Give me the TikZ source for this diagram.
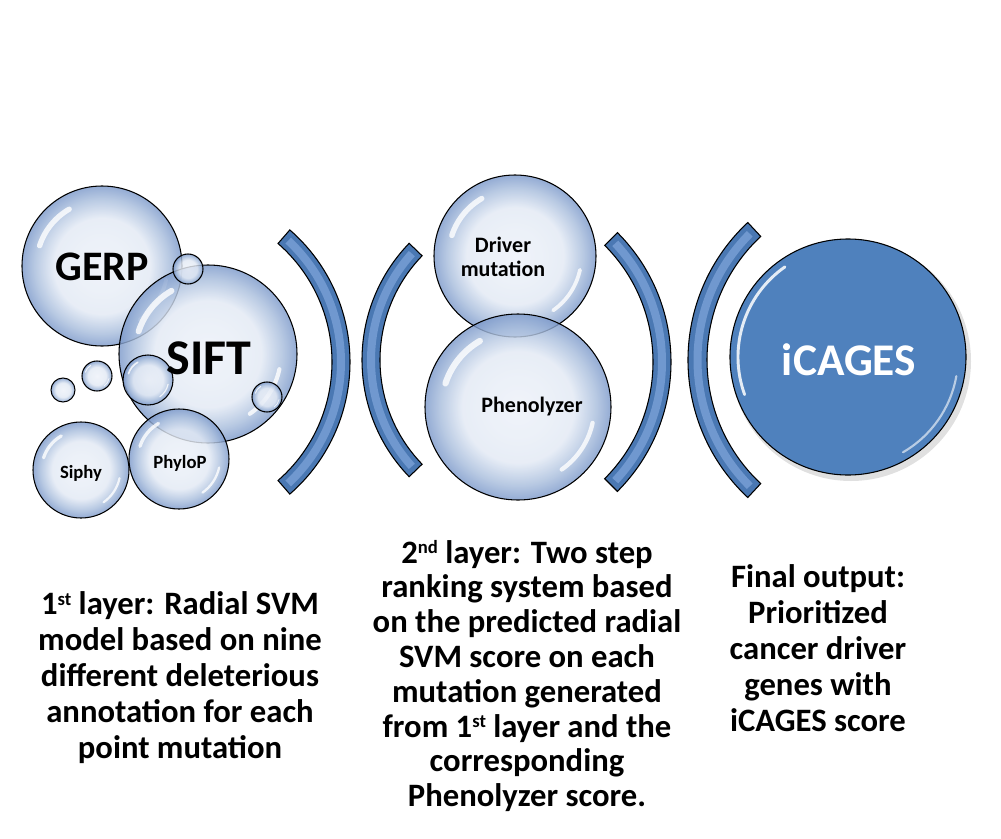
\documentclass[tikz,border=0pt]{standalone}
\usepackage{fontspec}
\setmainfont{Carlito}
\usetikzlibrary{calc}
\definecolor{bubin}{HTML}{EEF2F9}
\definecolor{bubmid}{HTML}{E3EAF5}
\definecolor{bubrim}{HTML}{A9BEDD}
\definecolor{bubedge}{HTML}{7D9ACB}
\definecolor{accent}{HTML}{4F81BD}
\definecolor{banddark}{HTML}{4A78B3}
\definecolor{bandlight}{HTML}{7098CF}
\pgfdeclareradialshading{bubshade}{\pgfpoint{0bp}{0bp}}{color(0bp)=(bubin); color(15bp)=(bubmid); color(21bp)=(bubrim); color(25bp)=(bubedge); color(50bp)=(bubedge)}
\newcommand\supr[1]{\raisebox{7pt}{\fontsize{14}{14}\selectfont #1}}
\tikzset{
  bub/.style={circle, draw=black, line width=0.8pt, inner sep=0pt,
    minimum size={#1*1.5pt}, shade, shading=bubshade, fill opacity=0.82},
  hl/.style={white, line cap=round, opacity=0.8},
  lbl/.style={inner sep=0pt, font=\bfseries},
  band/.style={fill=banddark, draw=black, line width=0.8pt},
  bandhl/.style={bandlight, line width=6pt, line cap=butt},
  caption/.style={align=center, inner sep=0pt}
}
\newcommand\hlbub[2]{%
  \draw[hl, line width={#2*0.05pt}] ($(#1.center)+(198:{#2*0.82})$) arc[start angle=198, end angle=240, radius={#2*0.82}];
  \draw[hl, line width={#2*0.035pt}] ($(#1.center)+(12:{#2*0.82})$) arc[start angle=12, end angle=55, radius={#2*0.82}];
}
\newcommand\bandarc[5]{%
  \draw[band] ($(#1)+(#4:#3)$) arc[start angle=#4, end angle=#5, radius=#3]
     -- ($(#1)+(#5:#2)$) arc[start angle=#5, end angle=#4, radius=#2] -- cycle;
  \draw[bandhl] ($(#1)+({#4+2}:{(#2+#3)/2})$) arc[start angle={#4+2}, end angle={#5-2}, radius={(#2+#3)/2}];
}
\begin{document}
\begin{tikzpicture}[x=0.75pt, y=-0.75pt]
\useasboundingbox (0,0) rectangle (1001,839);
\fill[white] (0,0) rectangle (1001,839);

% bracket centres
\coordinate (c1) at (175,362);
\coordinate (c2) at (530,360);
\coordinate (c3) at (488,362);
\coordinate (c4) at (876,360);
\bandarc{c1}{157}{175}{-49}{49}
\bandarc{c2}{150}{168}{136}{224}
\bandarc{c3}{165}{183}{-45}{45}
\bandarc{c4}{169}{188}{133}{227}

% first layer bubbles
\node[bub=80] (gerp) at (102,266) {};
\hlbub{gerp}{80}
\node[bub=89] (sift) at (208,354) {};
\hlbub{sift}{89}
\node[bub=15] (b1) at (188,269) {};
\node[bub=25] (b2) at (148,380) {};
\hlbub{b2}{25}
\node[bub=15] (b3) at (267,397) {};
\hlbub{b3}{15}
\node[bub=15] (b4) at (97,376) {};
\hlbub{b4}{15}
\node[bub=12] (b5) at (63,390) {};
\node[bub=48] (siphy) at (81,470) {};
\hlbub{siphy}{48}
\node[bub=50] (phylop) at (179,459) {};
\hlbub{phylop}{50}

\node[lbl, font=\fontsize{31.5}{34}\selectfont\bfseries] (gerpT) at (102,267) {GERP};
\node[lbl, font=\fontsize{37.5}{40}\selectfont\bfseries] (siftT) at (209,358) {SIFT};
\node[lbl, font=\fontsize{14}{16}\selectfont\bfseries] (siphyT) at (81,473) {Siphy};
\node[lbl, font=\fontsize{14}{16}\selectfont\bfseries] (phylopT) at (180,463) {PhyloP};

% second layer bubbles
\node[bub=81] (driver) at (515,256) {};
\hlbub{driver}{81}
\node[bub=93] (pheno) at (518,407) {};
\hlbub{pheno}{93}
\node[lbl, align=center, font=\fontsize{16.5}{18}\selectfont\bfseries] (driverT) at (503,257) {Driver\\mutation};
\node[lbl, font=\fontsize{16.5}{18}\selectfont\bfseries] (phenoT) at (532,407) {Phenolyzer};

% final output
\fill[black, opacity=0.12] (851,361) circle[radius=120];
\node[circle, fill=accent, draw=black, line width=0.8pt, minimum size={118*1.5pt}, inner sep=0pt] (icages) at (848,357) {};
\draw[hl, line width=2.2pt, opacity=0.85] ($(icages.center)+(160:110)$) arc[start angle=160, end angle=235, radius=110];
\draw[hl, line width=1.6pt, opacity=0.6] ($(icages.center)+(10:110)$) arc[start angle=10, end angle=60, radius=110];
\node[lbl, text=white, font=\fontsize{34}{36}\selectfont\bfseries] (icagesT) at (849,360) {iCAGES};

% captions
\node[caption, font=\fontsize{24.5}{27}\selectfont\bfseries] (cap1) at (180,678) {1\supr{st} layer: Radial SVM\\model based on nine\\different deleterious\\annotation for each\\point mutation};
\node[caption, font=\fontsize{24.5}{26.1}\selectfont\bfseries] (cap2) at (527,676) {2\supr{nd} layer: Two step\\ranking system based\\on the predicted radial\\SVM score on each\\mutation generated\\from 1\supr{st} layer and the\\corresponding\\Phenolyzer score.};
\node[caption, font=\fontsize{24.5}{26.9}\selectfont\bfseries] (cap3) at (818,648) {Final output:\\Prioritized\\cancer driver\\genes with\\iCAGES score};
\end{tikzpicture}
\end{document}
